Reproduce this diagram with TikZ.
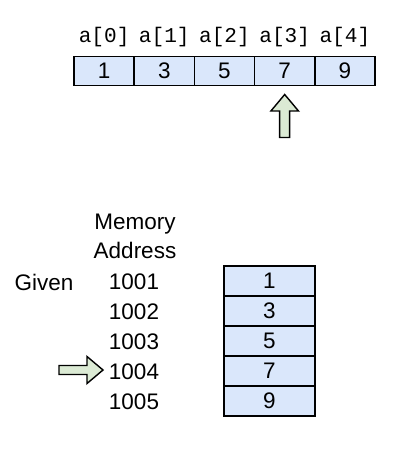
\documentclass[tikz,border=0pt]{standalone}
\usepackage{fontspec}
\setmainfont{Liberation Sans}
\setmonofont{Liberation Mono}
\usepackage{tikz}
\usetikzlibrary{positioning}
\definecolor{cellblue}{RGB}{218,231,251}
\definecolor{arrowgreen}{RGB}{219,234,212}

\begin{document}
\begin{tikzpicture}[x=0.025cm, y=-0.025cm,
    cell/.style={draw, line width=1.2pt, fill=cellblue, inner sep=0pt},
    topcell/.style={cell, minimum width=1.505cm, minimum height=0.73cm, font=\fontsize{16}{19}\selectfont},
    sidecell/.style={cell, minimum width=2.275cm, minimum height=0.75cm, font=\fontsize{16}{19}\selectfont},
    idx/.style={font=\ttfamily\fontsize{15}{18}\selectfont},
    lbl/.style={font=\fontsize{16}{20.6}\selectfont, align=center},
    fatarrow/.style={draw, line width=1pt, fill=arrowgreen, line join=miter}]
    \useasboundingbox (0,0) rectangle (404,450);

    % Array with indices
    \foreach \v [count=\i from 0] in {1,3,5,7,9} {
        \node[topcell] (a\i) at ({104.1+60.2*\i},71) {\v};
        \node[idx] (n\i) at ({104.1+60.2*\i},37) {a[\i]};
    }

    % Pointer to a[3]
    \draw[fatarrow] (284.7,94.5) -- (298.5,111) -- (289.7,111) -- (289.7,137.5) -- (279.7,137.5) -- (279.7,111) -- (270.9,111) -- cycle;

    % Memory layout
    \node[lbl] (head) at (135,236.5) {Memory\\Address};
    \node[lbl] (given) at (44,282) {Given};
    \foreach \v [count=\i from 0] in {1,3,5,7,9} {
        \pgfmathtruncatemacro\addr{1001+\i}
        \node[lbl] (m\i) at (134,{282+30*\i}) {\addr};
        \node[sidecell] (b\i) at (269.5,{281+30*\i}) {\v};
    }

    % Pointer to 1004
    \draw[fatarrow] (103,370) -- (87,356.5) -- (87,365.5) -- (59,365.5) -- (59,374.5) -- (87,374.5) -- (87,383.5) -- cycle;
\end{tikzpicture}
\end{document}
